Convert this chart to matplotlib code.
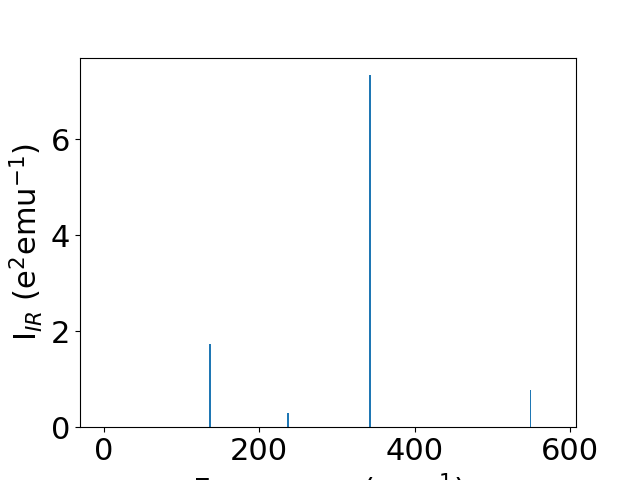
import matplotlib
matplotlib.use("Agg")
import matplotlib.pyplot as plt

# IR stick spectrum
freq = [136.5, 236.8, 342.8, 549.5]
intensity = [1.73, 0.29, 7.33, 0.77]

plt.rcParams['font.size'] = 22
fig = plt.figure(figsize=(6.4, 4.8), dpi=100)
plt.bar(freq, intensity, width=2)
plt.xlim(-31, 608)
plt.xlabel("Frequency (cm$^{-1}$)")
plt.ylabel("I$_{IR}$ (e$^2$emu$^{-1}$)")
plt.savefig("out.png")
